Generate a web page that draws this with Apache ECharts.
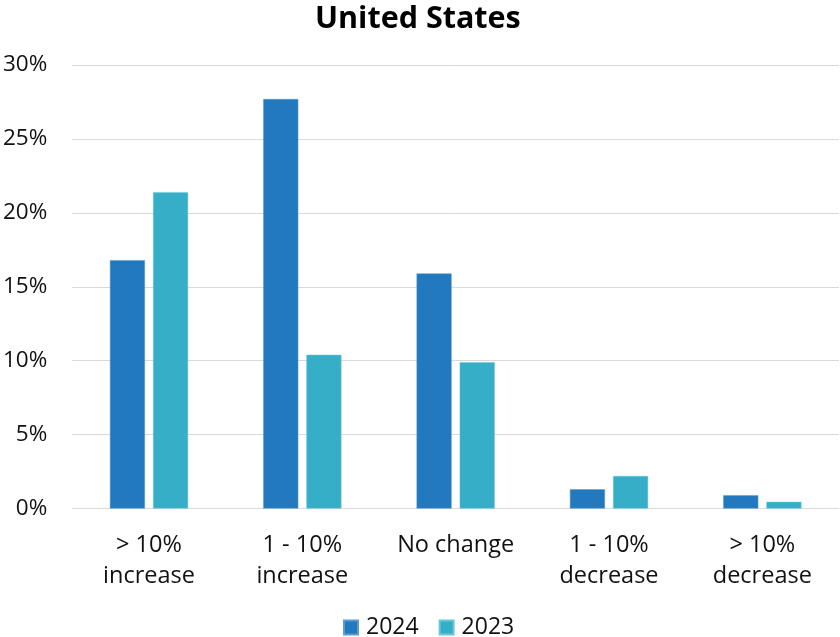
<!DOCTYPE html>
<html><head><meta charset="utf-8">
<script src="https://cdn.jsdelivr.net/npm/echarts@6/dist/echarts.min.js"></script>
<style>html,body{margin:0;padding:0;background:#fff}#c{width:840px;height:637px}</style>
</head><body><div id="c"></div>
<script>
const categories = ['> 10%\nincrease', '1 - 10%\nincrease', 'No change', '1 - 10%\ndecrease', '> 10%\ndecrease'];
const values2024 = [16.8, 27.7, 15.9, 1.3, 0.9];
const values2023 = [21.4, 10.4, 9.9, 2.2, 0.45];
const seriesNames = ['2024', '2023'];
const yTicks = [0, 5, 10, 15, 20, 25, 30];

const chart = echarts.init(document.getElementById('c'));
const font = '"Open Sans", sans-serif';
chart.setOption({
  animation: false,
  title: { text: 'United States', left: 310, top: -1.5,
    textStyle: { fontFamily: font, fontSize: 30.5, fontWeight: 'bold', color: '#000' } },
  legend: { bottom: -7, left: 338, itemWidth: 14, itemHeight: 14, itemGap: 20,
    icon: 'rect', textStyle: { fontFamily: font, fontSize: 23, color: '#111', padding: [0, 0, 0, 3] },
    data: seriesNames },
  grid: { left: 69.5, right: 1, top: 65, bottom: 128.5, containLabel: false },
  xAxis: { type: 'category', data: categories,
    axisLine: { show: true, lineStyle: { color: '#d9d9d9', width: 1 } },
    axisTick: { show: false },
    axisLabel: { fontFamily: font, fontSize: 23.5, color: '#111', lineHeight: 31, margin: 21, interval: 0 } },
  yAxis: { type: 'value', min: yTicks[0], max: yTicks[yTicks.length-1], interval: 5,
    axisLine: { show: false }, axisTick: { show: false },
    splitLine: { lineStyle: { color: '#d9d9d9', width: 1 } },
    axisLabel: { fontFamily: font, fontSize: 22.5, color: '#111', margin: 25, formatter: v => v + '%' } },
  series: [
    { name: seriesNames[0], type: 'bar', data: values2024, barGap: '23%', barCategoryGap: '49%',
      itemStyle: { color: '#2279BD', borderColor: '#5a9bd0', borderWidth: 0.5 } },
    { name: seriesNames[1], type: 'bar', data: values2023,
      itemStyle: { color: '#36AEC8', borderColor: '#6cc6d9', borderWidth: 0.5 } }
  ]
});
</script></body></html>
